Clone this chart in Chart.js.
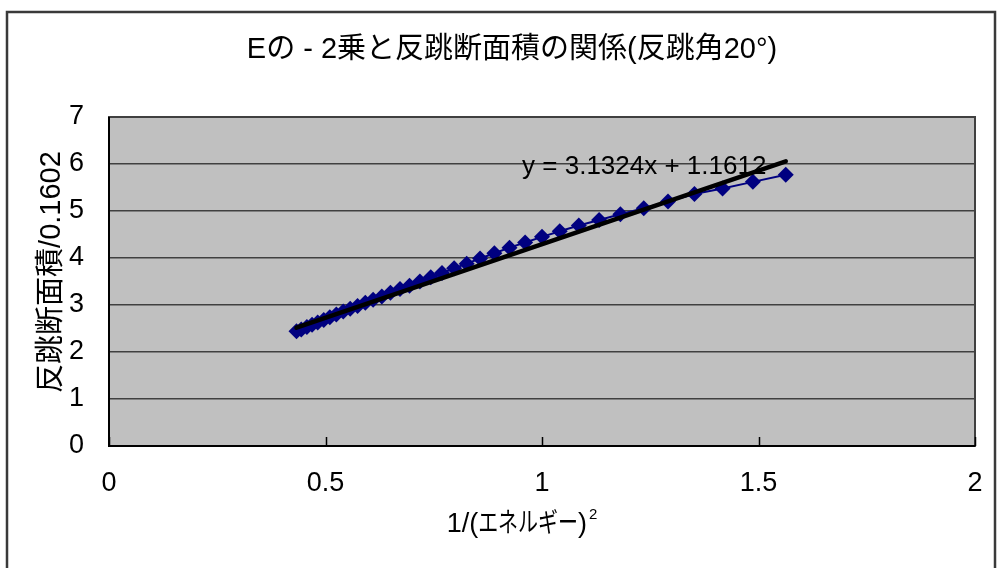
<!DOCTYPE html>
<html>
<head>
<meta charset="utf-8">
<script src="https://cdn.jsdelivr.net/npm/chart.js@4.4.1/dist/chart.umd.min.js"></script>
<style>
  html, body { margin: 0; padding: 0; background: #ffffff; }
  #wrap { position: relative; width: 1002px; height: 568px; }
  canvas { display: block; }
</style>
</head>
<body>
<div id="wrap"><canvas id="chart" width="1002" height="568"></canvas></div>
<script>
// 1/(energy)^2 for each measurement
const invEnergySq = [
  0.433, 0.444, 0.457, 0.469, 0.482, 0.496, 0.510, 0.525, 0.541, 0.557,
  0.574, 0.592, 0.610, 0.630, 0.650, 0.672, 0.694, 0.718, 0.743, 0.769,
  0.797, 0.826, 0.857, 0.890, 0.925, 0.961, 1.000, 1.041, 1.085, 1.132,
  1.181, 1.235, 1.291, 1.352, 1.417, 1.487, 1.563
];
// recoil cross-section divided by 0.1602
const recoilCross = [
  2.44, 2.48, 2.53, 2.58, 2.63, 2.68, 2.74, 2.80, 2.86, 2.92,
  2.98, 3.05, 3.11, 3.18, 3.26, 3.34, 3.41, 3.50, 3.59, 3.68,
  3.78, 3.88, 3.99, 4.10, 4.22, 4.33, 4.45, 4.57, 4.69, 4.81,
  4.93, 5.06, 5.20, 5.36, 5.48, 5.62, 5.77
];
// linear trendline y = a x + b
const trendSlope = 3.1324;
const trendIntercept = 1.1612;
const trendLabel = 'y = 3.1324x + 1.1612';

const xTickValues = [0, 0.5, 1, 1.5, 2];
const yTickValues = [0, 1, 2, 3, 4, 5, 6, 7];

const chartTitle = 'Eの - 2乗と反跳断面積の関係(反跳角20°)';
const xTitleParts = ['1/(', 'エネルギー', ')', '2'];
const yTitle = '反跳断面積/0.1602';

const FONT = "'Liberation Sans', 'Noto Sans CJK JP', sans-serif";

const points = invEnergySq.map((x, i) => ({ x, y: recoilCross[i] }));
const xMin = Math.min(...invEnergySq);
const xMax = Math.max(...invEnergySq);
const trendPoints = [
  { x: xMin, y: trendSlope * xMin + trendIntercept },
  { x: xMax, y: trendSlope * xMax + trendIntercept }
];

// gray plot background, frame, borders, inner x ticks and all titles
const decor = {
  id: 'decor',
  beforeDraw(chart) {
    const { ctx, chartArea: a } = chart;
    ctx.save();
    ctx.fillStyle = '#c0c0c0';
    ctx.fillRect(a.left, a.top, a.right - a.left, a.bottom - a.top);
    ctx.restore();
  },
  beforeDatasetsDraw(chart) {
    const { ctx, chartArea: a, scales } = chart;
    ctx.save();
    ctx.strokeStyle = '#404040';
    ctx.lineWidth = 2;
    ctx.strokeRect(a.left, a.top, a.right - a.left, a.bottom - a.top);
    ctx.strokeStyle = '#000000';
    ctx.beginPath();
    ctx.moveTo(a.left, a.top);
    ctx.lineTo(a.left, a.bottom);
    ctx.lineTo(a.right, a.bottom);
    ctx.stroke();
    ctx.lineWidth = 1.5;
    xTickValues.forEach(v => {
      const px = Math.round(scales.x.getPixelForValue(v)) + 0.5;
      ctx.beginPath();
      ctx.moveTo(px, a.bottom);
      ctx.lineTo(px, a.bottom - 9);
      ctx.stroke();
    });
    ctx.restore();
  },
  afterDraw(chart) {
    const { ctx, scales } = chart;
    ctx.save();
    // outer frame
    ctx.strokeStyle = '#3a3a3a';
    ctx.lineWidth = 2.5;
    ctx.strokeRect(7, 12, 988, 570);

    ctx.fillStyle = '#000000';
    ctx.textBaseline = 'middle';

    // chart title
    ctx.font = '29px ' + FONT;
    ctx.textAlign = 'center';
    ctx.fillText(chartTitle, 512, 50);

    // y axis title
    ctx.save();
    ctx.translate(52, 272);
    ctx.rotate(-Math.PI / 2);
    ctx.font = '29px ' + FONT;
    ctx.fillText(yTitle, 0, 0);
    ctx.restore();

    // x axis title: narrow katakana and a raised exponent
    ctx.textAlign = 'left';
    ctx.textBaseline = 'alphabetic';
    const base = 532;
    const kanaSqueeze = 0.74;
    const mainFont = '27px ' + FONT;
    const supFont = '15px ' + FONT;
    ctx.font = mainFont;
    const w0 = ctx.measureText(xTitleParts[0]).width;
    const w1 = ctx.measureText(xTitleParts[1]).width * kanaSqueeze;
    const w2 = ctx.measureText(xTitleParts[2]).width;
    ctx.font = supFont;
    const w3 = ctx.measureText(xTitleParts[3]).width;
    let x = 522 - (w0 + w1 + w2 + w3 + 2) / 2;
    ctx.font = mainFont;
    ctx.fillText(xTitleParts[0], x, base); x += w0;
    ctx.save();
    ctx.translate(x, base);
    ctx.scale(kanaSqueeze, 1);
    ctx.fillText(xTitleParts[1], 0, 0);
    ctx.restore();
    x += w1;
    ctx.fillText(xTitleParts[2], x, base); x += w2 + 2;
    ctx.font = supFont;
    ctx.fillText(xTitleParts[3], x, base - 13);

    // trendline equation
    ctx.font = '26px ' + FONT;
    ctx.textAlign = 'left';
    ctx.textBaseline = 'middle';
    ctx.fillText(trendLabel, scales.x.getPixelForValue(0.954), scales.y.getPixelForValue(5.93));
    ctx.restore();
  }
};

new Chart(document.getElementById('chart'), {
  type: 'scatter',
  data: {
    datasets: [
      {
        label: 'data',
        data: points,
        showLine: true,
        borderColor: '#000080',
        borderWidth: 2,
        backgroundColor: '#000080',
        pointStyle: 'rectRot',
        pointRadius: 8,
        pointBorderWidth: 0,
        pointHoverRadius: 8,
        order: 2
      },
      {
        label: 'trend',
        data: trendPoints,
        showLine: true,
        borderColor: '#000000',
        borderWidth: 4.5,
        borderCapStyle: 'round',
        pointRadius: 0,
        order: 1
      }
    ]
  },
  plugins: [decor],
  options: {
    responsive: false,
    animation: false,
    devicePixelRatio: 1,
    layout: { padding: { left: 8, right: 27, top: 117, bottom: 0 } },
    plugins: {
      legend: { display: false },
      tooltip: { enabled: false },
      title: { display: false }
    },
    scales: {
      x: {
        type: 'linear',
        min: 0,
        max: 2,
        afterBuildTicks: s => { s.ticks = xTickValues.map(v => ({ value: v })); },
        afterFit: s => { s.height = 122; s.paddingLeft = 0; s.paddingRight = 0; },
        grid: { display: false, drawTicks: false },
        border: { display: false },
        ticks: {
          color: '#000000', padding: 21, maxRotation: 0,
          font: { family: FONT, size: 27 },
          callback: v => String(v)
        },
        title: { display: false }
      },
      y: {
        type: 'linear',
        min: 0,
        max: 7,
        afterBuildTicks: s => { s.ticks = yTickValues.map(v => ({ value: v })); },
        afterFit: s => { s.width = 101; s.paddingTop = 0; s.paddingBottom = 0; },
        grid: { color: '#404040', lineWidth: 1.5, drawTicks: false },
        border: { display: false },
        ticks: {
          color: '#000000', padding: 25,
          font: { family: FONT, size: 27 },
          callback: v => String(v)
        },
        title: { display: false }
      }
    }
  }
});
</script>
</body>
</html>
